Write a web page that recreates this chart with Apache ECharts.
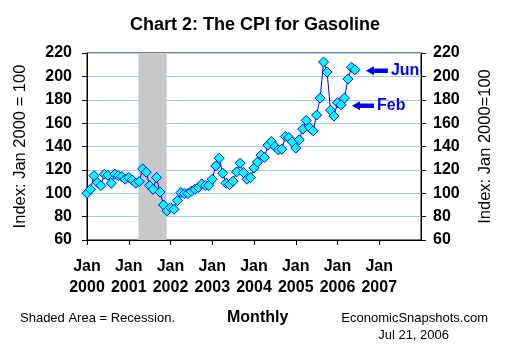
<!DOCTYPE html>
<html>
<head>
<meta charset="utf-8">
<script src="https://cdn.jsdelivr.net/npm/echarts@6/dist/echarts.min.js"></script>
<style>
  html, body { margin: 0; padding: 0; background: #fff; }
  #chart { width: 510px; height: 350px; }
</style>
</head>
<body>
<div id="chart"></div>
<script>
// CPI for gasoline, index Jan 2000 = 100, monthly from Jan 2000
const startYear = 2000;
const gasCpi = [
  100.0, 103.4, 115.0, 109.0, 106.6, 116.3, 115.4, 108.6, 116.3, 115.0, 114.3, 112.0, // 2000
  113.4, 111.4, 108.6, 110.0, 120.9, 118.0, 106.6, 103.4, 113.4, 101.0, 90.0, 85.0,   // 2001
  87.7, 86.3, 93.7, 100.6, 99.7, 99.7, 101.7, 103.4, 104.9, 108.0, 106.6, 106.6,      // 2002
  112.0, 123.4, 130.0, 117.1, 108.6, 107.4, 110.3, 118.3, 125.7, 117.7, 112.0, 113.4, // 2003
  121.7, 126.6, 132.6, 130.6, 141.1, 144.3, 140.0, 137.1, 137.7, 148.6, 147.7, 144.0, // 2004
  138.6, 145.7, 154.9, 162.3, 156.3, 153.4, 166.9, 181.4, 212.3, 203.7, 171.1, 166.0, // 2005
  177.4, 175.7, 181.4, 197.7, 207.7, 205.7                                            // 2006
];
const yTicks = [60, 80, 100, 120, 140, 160, 180, 200, 220];
const yearTicks = [2000, 2001, 2002, 2003, 2004, 2005, 2006, 2007, 2008];
// recession shading, in months since Jan 2000 (Mar 2001 - Nov 2001)
const recession = [14.8, 22.9];
// arrows pointing at the latest value and at February
const callouts = [
  { name: 'Jun', month: 77 },
  { name: 'Feb', month: 73 }
];

const points = gasCpi.map((v, i) => [i, v]);
const xMax = (yearTicks[yearTicks.length - 1] - startYear) * 12;

const tickFont = { fontFamily: 'Liberation Sans', fontWeight: 'bold', fontSize: 16, color: '#000' };
const arrow = 'path://M0,5 L8,0 L8,2.5 L22,2.5 L22,7.5 L8,7.5 L8,10 Z';

const yAxisBase = {
  type: 'value',
  min: yTicks[0],
  max: yTicks[yTicks.length - 1],
  interval: 20,
  nameLocation: 'middle',
  nameTextStyle: { fontFamily: 'Liberation Sans', fontSize: 16.5, color: '#000' },
  axisLine: { show: true, lineStyle: { color: '#000', width: 1 } },
  axisTick: { show: true, length: 5, lineStyle: { color: '#000' } },
  splitLine: { show: false }
};

const chart = echarts.init(document.getElementById('chart'), null, { renderer: 'canvas' });
chart.setOption({
  animation: false,
  backgroundColor: '#fff',
  title: [
    { text: 'Chart 2: The CPI for Gasoline', left: 'center', top: 11,
      textStyle: { fontFamily: 'Liberation Sans', fontWeight: 'bold', fontSize: 18, color: '#000' } },
    { text: 'Shaded Area = Recession.', left: 15, top: 307,
      textStyle: { fontFamily: 'Liberation Sans', fontWeight: 'normal', fontSize: 13, color: '#000' } },
    { text: 'Monthly', left: 222, top: 305,
      textStyle: { fontFamily: 'Liberation Sans', fontWeight: 'bold', fontSize: 16, color: '#000' } },
    { text: 'EconomicSnapshots.com', right: 17, top: 307,
      textStyle: { fontFamily: 'Liberation Sans', fontWeight: 'normal', fontSize: 13, color: '#000' } },
    { text: 'Jul 21, 2006', right: 56, top: 324,
      textStyle: { fontFamily: 'Liberation Sans', fontWeight: 'normal', fontSize: 13, color: '#000' } }
  ],
  grid: { left: 87, right: 89, top: 53, bottom: 110, show: true, borderColor: '#000', borderWidth: 1, backgroundColor: 'transparent' },
  xAxis: {
    type: 'value',
    min: 0,
    max: xMax,
    interval: 12,
    axisLine: { onZero: false, lineStyle: { color: '#000', width: 1 } },
    axisTick: { show: true, length: 5, lineStyle: { color: '#000' } },
    axisLabel: Object.assign({}, tickFont, {
      margin: 16,
      lineHeight: 21,
      showMaxLabel: false,
      formatter: v => {
        const yr = startYear + v / 12;
        return yr < yearTicks[yearTicks.length - 1] ? 'Jan\n' + yr : '';
      }
    }),
    splitLine: { show: false }
  },
  yAxis: [
    Object.assign({}, yAxisBase, {
      position: 'left',
      name: 'Index: Jan 2000 = 100',
      nameGap: 58,
      axisLabel: Object.assign({}, tickFont, { margin: 15 }),
      splitLine: { show: true, lineStyle: { color: '#99ccff', width: 1 } }
    }),
    Object.assign({}, yAxisBase, {
      position: 'right',
      name: 'Index: Jan 2000=100',
      nameGap: 56,
      axisLabel: Object.assign({}, tickFont, { margin: 12 })
    })
  ],
  series: [{
    type: 'line',
    data: points,
    yAxisIndex: 0,
    symbol: 'diamond',
    symbolSize: 10,
    lineStyle: { color: '#0000ff', width: 1 },
    itemStyle: { color: '#00ffff', borderColor: '#0000ff', borderWidth: 1 },
    markArea: {
      silent: true,
      itemStyle: { color: '#c8c8c8' },
      data: [[{ xAxis: recession[0] }, { xAxis: recession[1] }]]
    },
    markPoint: {
      silent: true,
      symbol: arrow,
      symbolSize: [22, 9],
      symbolKeepAspect: false,
      itemStyle: { color: '#0000ff' },
      label: {
        show: true,
        position: 'right',
        distance: 3,
        formatter: '{b}',
        fontFamily: 'Liberation Sans',
        fontWeight: 'bold',
        fontSize: 16,
        color: '#0000ff'
      },
      data: callouts.map(c => ({
        name: c.name,
        coord: [c.month, gasCpi[c.month]],
        symbolOffset: [22, 1]
      }))
    }
  }]
});
</script>
</body>
</html>
